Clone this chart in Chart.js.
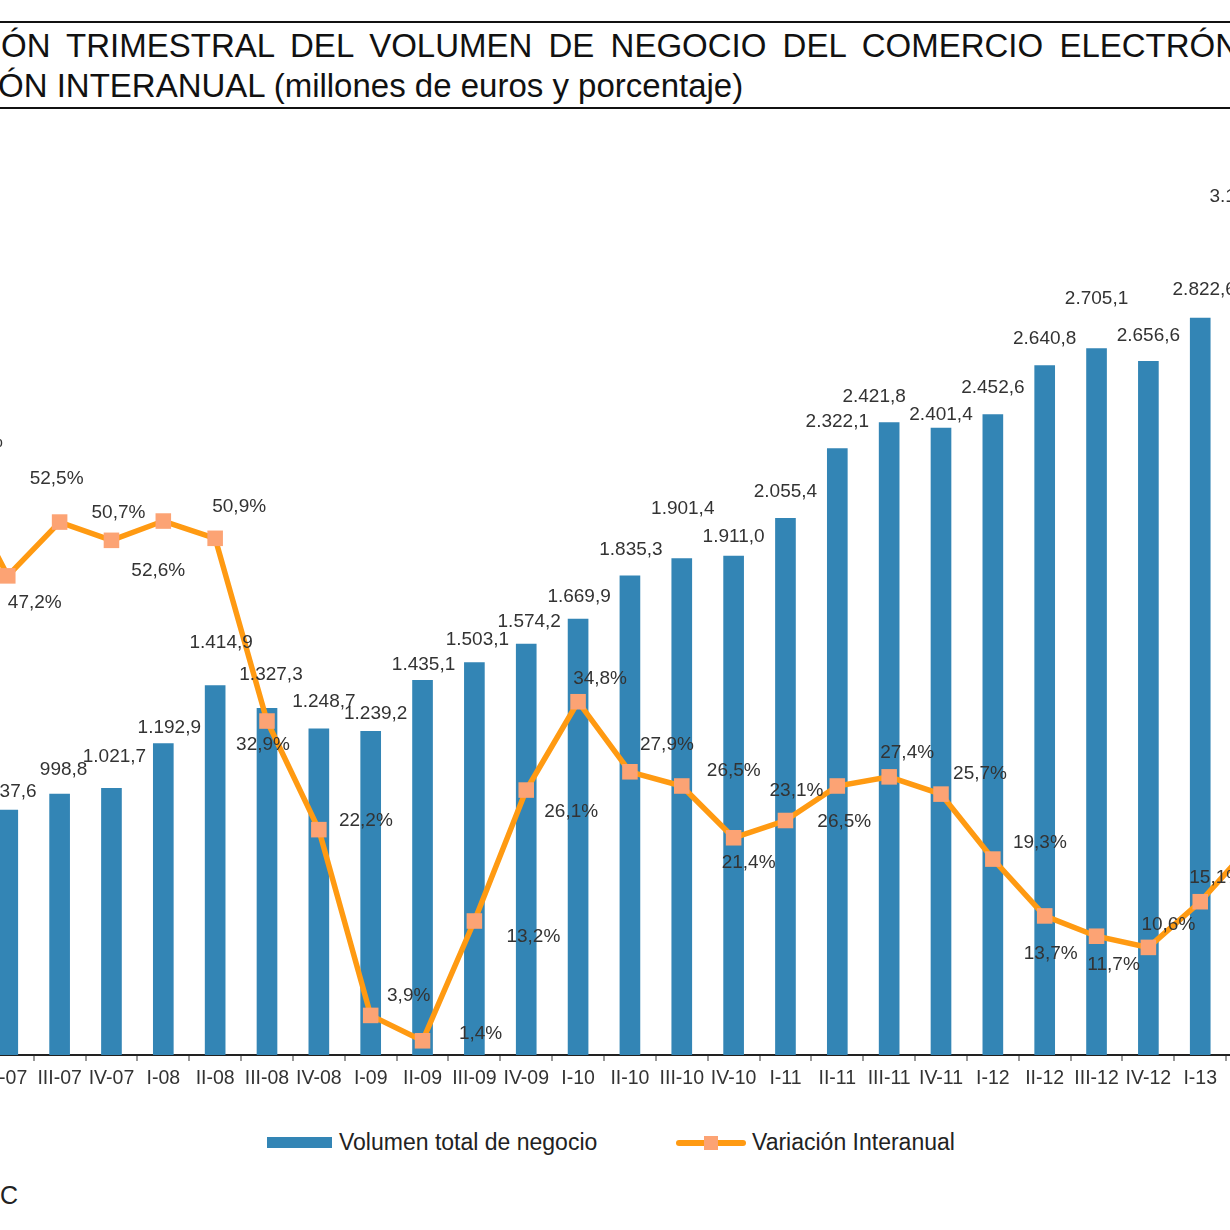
<!DOCTYPE html>
<html>
<head>
<meta charset="utf-8">
<script src="https://cdn.jsdelivr.net/npm/chart.js@4.4.1/dist/chart.umd.min.js"></script>
<style>
  html, body { margin: 0; padding: 0; background: #fff; overflow: hidden; }
  body { width: 1230px; height: 1230px; position: relative; font-family: "Liberation Sans", Arial, sans-serif; color: #111; }
  .rule { position: absolute; left: 0; width: 1230px; height: 2px; background: #111; }
  .title { position: absolute; white-space: nowrap; font-size: 33px; line-height: 40px; }
  #t1 { word-spacing: 7px; }
  #chartBox { position: absolute; left: -70px; top: 110px; width: 1348px; height: 985px; }
  .legend { position: absolute; top: 1128px; font-size: 23px; line-height: 28px; color: #222; white-space: nowrap; }
  .swatch-bar { position: absolute; left: 267px; top: 1137px; width: 65px; height: 11px; background: #3385b5; }
  .swatch-line { position: absolute; left: 676px; top: 1140px; width: 70px; height: 6px; border-radius: 3px; background: #ff9a12; }
  .swatch-dot { position: absolute; left: 704px; top: 1136px; width: 14px; height: 14px; background: #fca374; }
  #source { position: absolute; left: -300px; width: 318px; top: 1180px; text-align: right; font-size: 25px; line-height: 30px; white-space: nowrap; color: #222; }
</style>
</head>
<body>
<div class="rule" style="top:21px"></div>
<div class="title" id="t1" style="top:26px"><span id="p1">EVOLUCI</span>ÓN TRIMESTRAL DEL VOLUMEN DE NEGOCIO DEL COMERCIO ELECTRÓNICO Y</div>
<div class="title" id="t2" style="top:66px"><span id="p2">VARIACI</span>ÓN INTERANUAL (millones de euros y porcentaje)</div>
<div class="rule" style="top:107px"></div>

<div id="chartBox"><canvas id="chart"></canvas></div>

<div class="swatch-bar"></div>
<div class="legend" style="left:339px">Volumen total de negocio</div>
<div class="swatch-line"></div>
<div class="swatch-dot"></div>
<div class="legend" style="left:752px">Variación Interanual</div>
<div id="source">Fuente: CNMC</div>

<script>
// quarters, I-07 .. II-13
const quarters = ['I-07', 'II-07', 'III-07', 'IV-07', 'I-08', 'II-08', 'III-08', 'IV-08',
  'I-09', 'II-09', 'III-09', 'IV-09', 'I-10', 'II-10', 'III-10', 'IV-10',
  'I-11', 'II-11', 'III-11', 'IV-11', 'I-12', 'II-12', 'III-12', 'IV-12', 'I-13', 'II-13'];

// millones de euros
const volumen = [870.0, 937.6, 998.8, 1021.7, 1192.9, 1414.9, 1327.3, 1248.7,
  1239.2, 1435.1, 1503.1, 1574.2, 1669.9, 1835.3, 1901.4, 1911.0,
  2055.4, 2322.1, 2421.8, 2401.4, 2452.6, 2640.8, 2705.1, 2656.6, 2822.6, 3179.0];

// %
const variacion = [57.0, 47.2, 52.5, 50.7, 52.6, 50.9, 32.9, 22.2,
  3.9, 1.4, 13.2, 26.1, 34.8, 27.9, 26.5, 21.4,
  23.1, 26.5, 27.4, 25.7, 19.3, 13.7, 11.7, 10.6, 15.1, 20.8];

// label nudges [dx, dy] in px, from the bar top / line point
const barLabelShift = [[4,-24],[5,-18],[4,-24],[3,-31],[6,-16],[6,-43],[4,-34],[5,-27],
  [5,-18],[1,-16],[3,-23],[3,-22],[1,-22],[1,-26],[1,-50],[0,-19],
  [0,-27],[0,-27],[-15,-26],[0,-13],[0,-27],[0,-27],[0,-50],[0,-26],[4,-28],[-11,-28]];
const lineLabelShift = [[20,-35],[27,27],[-3,-43],[7,-28],[-5,50],[24,-32],[-4,24],[47,-9],
  [38,-20],[58,-7],[59,16],[45,22],[22,-23],[37,-27],[52,-15],[15,25],
  [11,-30],[7,36],[18,-24],[39,-20],[47,-16],[6,38],[17,29],[20,-23],[16,-24],[4,-28]];

function fmtEs(v) {
  const parts = v.toFixed(1).split('.');
  return parts[0].replace(/\B(?=(\d{3})+(?!\d))/g, '.') + ',' + parts[1];
}

// line up the cut-off title
[['t1', 'p1', 1], ['t2', 'p2', -2]].forEach(([t, p, x]) => {
  const w = document.getElementById(p).getBoundingClientRect().width;
  document.getElementById(t).style.left = (x - w) + 'px';
});

const valueLabels = {
  id: 'valueLabels',
  afterDatasetsDraw(chart) {
    const ctx = chart.ctx;
    ctx.save();
    ctx.font = '19px "Liberation Sans", Arial, sans-serif';
    ctx.fillStyle = '#333';
    ctx.textAlign = 'center';
    ctx.textBaseline = 'middle';
    chart.getDatasetMeta(1).data.forEach((bar, i) => {
      ctx.fillText(fmtEs(volumen[i]), bar.x + barLabelShift[i][0], bar.y + barLabelShift[i][1]);
    });
    chart.getDatasetMeta(0).data.forEach((pt, i) => {
      ctx.fillText(fmtEs(variacion[i]) + '%', pt.x + lineLabelShift[i][0], pt.y + lineLabelShift[i][1]);
    });
    ctx.restore();
  }
};

new Chart(document.getElementById('chart'), {
  type: 'bar',
  data: {
    labels: quarters,
    datasets: [
      {
        type: 'line',
        label: 'Variación Interanual',
        data: variacion,
        yAxisID: 'y1',
        order: 0,
        borderColor: '#ff9a12',
        borderWidth: 5.5,
        tension: 0,
        pointStyle: 'rect',
        pointRadius: 11,
        pointBackgroundColor: '#fca374',
        pointBorderWidth: 0,
        clip: false
      },
      {
        label: 'Volumen total de negocio',
        data: volumen,
        yAxisID: 'y',
        order: 1,
        backgroundColor: '#3385b5',
        barThickness: 20
      }
    ]
  },
  options: {
    responsive: true,
    maintainAspectRatio: false,
    animation: false,
    layout: { autoPadding: false, padding: { top: 5, left: 0, right: 0, bottom: 0 } },
    plugins: { legend: { display: false }, tooltip: { enabled: false } },
    scales: {
      x: {
        offset: true,
        grid: { offset: true, drawOnChartArea: false, drawTicks: true, tickLength: 6, color: '#999', lineWidth: 2 },
        border: { display: true, color: '#222', width: 2 },
        ticks: { color: '#333', padding: 6, font: { family: '"Liberation Sans", Arial, sans-serif', size: 19.5 }, maxRotation: 0, autoSkip: false },
        afterFit(scale) {
          scale.height = 40;
          scale.paddingLeft = 0;
          scale.paddingRight = 0;
        }
      },
      y: { display: false, min: 0, max: 3600 },
      y1: { display: false, min: 0, max: 92.6 }
    }
  },
  plugins: [valueLabels]
});
</script>
</body>
</html>
